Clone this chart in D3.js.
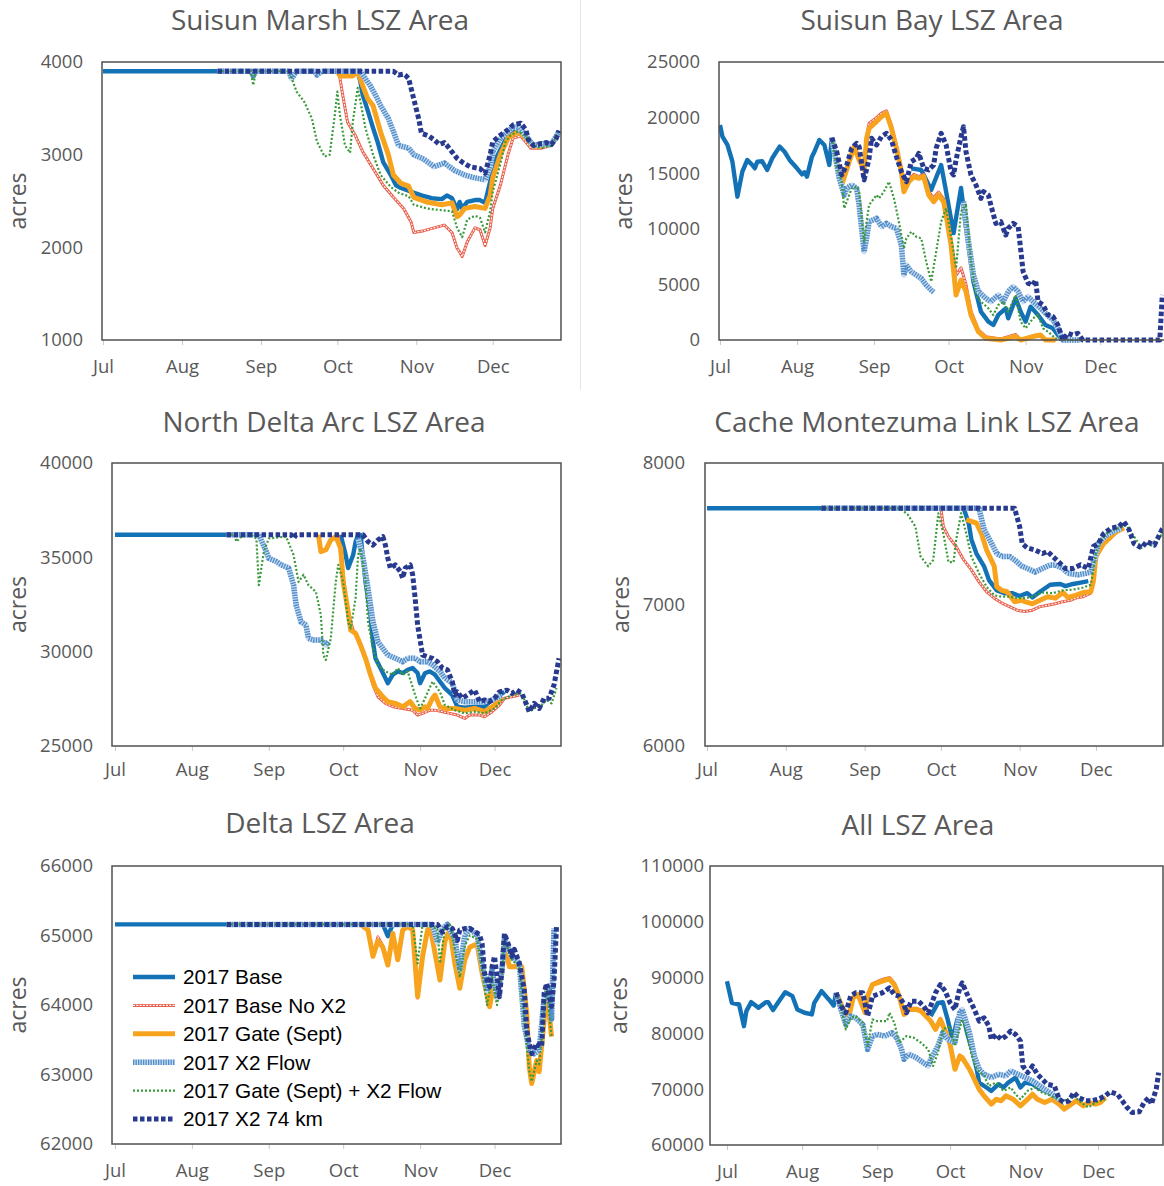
<!DOCTYPE html>
<html>
<head>
<meta charset="utf-8">
<script src="https://d3js.org/d3.v7.min.js"></script>
<style>
body { margin: 0; background: #fff; }
.title { font: 28px "Open Sans", sans-serif; fill: #595959; }
.tick text { font: 18.5px "Open Sans", sans-serif; fill: #595959; }
.ylab { font: 23px "Open Sans", sans-serif; fill: #595959; }
.legend text { font: 20.8px "Liberation Sans", Arial, sans-serif; fill: #000; }
</style>
</head>
<body>
<script>
// ---- data (day = days after 1 Jul 2017, value = acres) ----
var months = ["Jul", "Aug", "Sep", "Oct", "Nov", "Dec"];
var seriesNames = ["2017 Base", "2017 Base No X2", "2017 Gate (Sept)", "2017 X2 Flow", "2017 Gate (Sept) + X2 Flow", "2017 X2 74 km"];
var panelTitles = ["Suisun Marsh LSZ Area", "Suisun Bay LSZ Area", "North Delta Arc LSZ Area", "Cache Montezuma Link LSZ Area", "Delta LSZ Area", "All LSZ Area"];

var marshTicks = [1000, 2000, 3000, 4000];
var bayTicks = [0, 5000, 10000, 15000, 20000, 25000];
var ndaTicks = [25000, 30000, 35000, 40000];
var cmlTicks = [6000, 7000, 8000];
var deltaTicks = [62000, 63000, 64000, 65000, 66000];
var allTicks = [60000, 70000, 80000, 90000, 100000, 110000];

// Suisun Marsh
var marshBase = [[0,3900],[45,3900],[46,null],[99,3900],[100,3900],[101,3790],[102,3640],[104,3470],[106,3290],[108,3120],[110,2920],[113,2780],[115,2670],[117,2640],[121,2600],[125,2560],[129,2530],[133,2520],[135,2560],[137,2530],[139,2410],[140,2490],[141,2420],[143,2490],[146,2510],[148,2510],[150,2480],[152,2710],[153,2870],[155,3000],[158,3160],[160,3230],[163,3270],[165,3250],[167,3160],[169,3100],[172,3120],[174,3130],[176,3110],[178,3180],[179,3250]];
var marshNoX2 = [[91,3900],[92,3900],[93,3830],[94,3660],[96,3350],[99,3210],[102,3030],[106,2850],[110,2670],[114,2540],[118,2420],[121,2270],[122,2160],[126,2180],[130,2210],[134,2240],[137,2160],[139,1990],[140,1950],[141,1900],[143,2060],[146,2210],[148,2190],[150,2020],[152,2210],[153,2420],[156,2670],[159,3000],[161,3180],[164,3200],[168,3070],[172,3070],[176,3100],[179,3230]];
var marshGate = [[91,3900],[92,3900],[93,3850],[98,3850],[100,3900],[102,3740],[104,3600],[106,3530],[109,3240],[112,3000],[114,2780],[117,2690],[120,2660],[122,2540],[127,2490],[133,2460],[137,2480],[139,2330],[140,2350],[142,2420],[146,2440],[150,2420],[152,2560],[153,2750],[156,3000],[159,3180],[163,3250],[166,3180],[169,3090],[172,3100],[176,3110],[179,3240]];
var marshFlow = [[45,3900],[58,3900],[59,3850],[60,3900],[73,3900],[74,3820],[76,3900],[83,3900],[84,3860],[86,3900],[101,3900],[103,3820],[105,3740],[107,3640],[109,3530],[112,3390],[114,3250],[116,3100],[120,3070],[122,3000],[126,2950],[130,2870],[134,2910],[138,2830],[142,2780],[146,2750],[150,2730],[152,2870],[153,3030],[156,3180],[159,3250],[161,3300],[163,3290],[166,3200],[169,3100],[172,3110],[176,3110],[179,3250]];
var marshGateFlow = [[45,3900],[58,3900],[59,3750],[60,3900],[73,3900],[74,3830],[76,3680],[79,3570],[82,3390],[84,3140],[87,2980],[89,3000],[91,3430],[92,3680],[93,3430],[95,3100],[97,3020],[98,3340],[100,3720],[101,3580],[103,3290],[106,3000],[109,2780],[113,2650],[116,2590],[120,2550],[122,2460],[127,2420],[133,2400],[137,2390],[139,2210],[141,2110],[143,2300],[146,2340],[148,2320],[150,2160],[152,2390],[153,2600],[156,2900],[158,3140],[160,3210],[163,3250],[166,3200],[169,3100],[172,3070],[176,3100],[179,3250]];
var marsh74 = [[45,3900],[114,3900],[116,3860],[118,3870],[119,3850],[120,3820],[122,3600],[124,3380],[125,3230],[128,3200],[130,3160],[132,3110],[134,3130],[135,3100],[137,3030],[139,2960],[141,2920],[144,2870],[148,2850],[150,2800],[152,3000],[153,3140],[156,3210],[159,3270],[161,3320],[164,3340],[166,3270],[167,3160],[169,3100],[172,3120],[174,3130],[176,3110],[178,3180],[179,3260]];

// Suisun Bay
var bayBase = [[0,19330],[1,18280],[3,17540],[5,16030],[7,12890],[9,15140],[11,16190],[13,15740],[14,15440],[15,16030],[17,16070],[19,15290],[21,16340],[24,17390],[26,16930],[28,16190],[31,15440],[33,14900],[34,15080],[35,14690],[37,16490],[38,16930],[40,17990],[42,17540],[44,15740],[45,18190],[46,null],[77,15440],[81,15290],[85,13490],[89,15740],[91,13340],[94,9620],[97,13670],[99,10070],[102,5250],[105,2550],[108,1650],[110,1350],[112,2250],[115,2850],[116,1950],[119,3750],[121,2550],[123,1650],[125,3000],[128,2250],[131,1350],[134,1050],[136,450],[138,0],[140,0]];
var bayNoX2 = [[46,17200],[47,16000],[49,14200],[52,16200],[54,17500],[56,16300],[58,15400],[59,18300],[60,19500],[63,20000],[65,20400],[67,20600],[69,19300],[71,17500],[73,15400],[74,13600],[76,14400],[78,14900],[80,14700],[82,14900],[84,13300],[86,12800],[88,13300],[90,12700],[91,11500],[93,9000],[95,5800],[97,6500],[99,5000],[101,2600],[104,900],[107,300],[113,100],[119,500],[121,0],[126,400],[129,500],[131,0],[135,0]];
var bayGate = [[46,17000],[47,16000],[49,13940],[52,16030],[54,17390],[56,16190],[58,15290],[59,18140],[60,19040],[63,19640],[65,20090],[67,20390],[69,19040],[71,17240],[73,15140],[74,13340],[76,14240],[78,14690],[80,14540],[82,14690],[84,13040],[86,12440],[88,13040],[90,12440],[91,11240],[93,8540],[95,4050],[97,5390],[99,4350],[101,2250],[104,750],[107,150],[113,0],[119,300],[121,0],[126,300],[129,450],[131,0],[135,0]];
var bayFlow = [[45,18190],[48,14540],[50,13040],[51,13640],[53,13940],[55,13640],[56,12140],[58,7940],[59,9140],[60,10640],[63,10940],[65,10190],[67,10490],[69,10190],[71,10040],[73,8540],[74,5840],[75,6740],[77,6140],[79,5840],[81,5540],[83,4940],[85,4490],[86,4300],[87,null],[98,12440],[100,8840],[102,5840],[104,4350],[107,3750],[109,3450],[112,4050],[114,3450],[116,4350],[118,4800],[120,4350],[122,3450],[124,3900],[126,3450],[129,2850],[131,2400],[134,1800],[136,1050],[138,0],[145,0]];
var bayGateFlow = [[45,18140],[47,15440],[49,14240],[50,11840],[53,13640],[55,13790],[56,13340],[58,8840],[59,10640],[60,12140],[63,13040],[64,12740],[66,13340],[68,14240],[70,12740],[72,10640],[74,8240],[75,9140],[77,9740],[79,9290],[81,9140],[83,7040],[85,5240],[87,7940],[89,10640],[91,11840],[92,10640],[94,7940],[95,6440],[97,11540],[99,12140],[101,7040],[103,4050],[105,3450],[108,2850],[110,2250],[112,3150],[114,3450],[116,2550],[119,4050],[121,1650],[123,1050],[126,1950],[128,2250],[130,1050],[132,750],[135,150],[138,0],[147,0]];
var bay74 = [[45,18190],[47,16930],[49,14840],[51,15740],[53,17240],[55,17690],[56,17390],[58,14390],[60,16330],[61,18140],[63,17540],[65,18300],[67,18590],[69,17990],[71,16480],[73,15140],[75,14240],[77,16030],[79,16330],[80,16780],[82,15440],[84,15290],[86,15740],[87,17240],[89,18590],[91,17540],[93,15140],[94,14840],[95,16190],[97,18290],[98,19180],[99,16930],[101,14840],[103,13940],[105,12740],[106,13340],[108,13040],[109,12140],[111,10490],[113,10640],[115,9440],[116,10040],[118,10490],[120,10190],[122,6140],[124,5100],[126,4950],[127,5390],[128,3450],[130,3150],[132,2250],[134,2100],[136,1350],[138,0],[140,600],[142,450],[144,600],[146,0],[177,0],[178,4050]];

// North Delta Arc
var ndaBase = [[0,36200],[45,36200],[46,null],[91,36200],[92,35650],[93,35120],[94,34430],[96,35120],[97,35830],[98,36180],[99,36180],[101,33700],[103,31940],[104,30530],[105,29650],[107,29130],[109,28600],[110,28330],[112,28780],[114,28950],[116,28870],[118,29040],[120,29130],[122,28870],[123,28330],[125,28870],[127,28950],[129,28780],[131,28420],[133,28070],[136,27700],[138,27080],[141,27030],[145,27080],[149,27080],[151,27350],[154,27610],[157,27870]];
var ndaNoX2 = [[90,36200],[92,34000],[94,32000],[96,31150],[98,30700],[100,30000],[102,29130],[104,28240],[106,27610],[109,27260],[112,27080],[116,26990],[120,26900],[122,26640],[124,26730],[127,26900],[129,26900],[132,26820],[135,26730],[138,26640],[141,26460],[143,26640],[147,26640],[149,26550],[152,26820],[155,27170],[157,27530],[160,27610],[163,27700]];
var ndaGate = [[82,36200],[83,35300],[85,35400],[87,35920],[89,36100],[91,35480],[92,33700],[94,32120],[95,31150],[97,30970],[99,30350],[101,29650],[103,28780],[105,28070],[108,27610],[110,27350],[113,27260],[116,27080],[119,27350],[121,26990],[123,26900],[125,27080],[126,26990],[128,27530],[129,27700],[131,27080],[133,26990],[137,26990],[141,26900],[145,26990],[149,26820],[153,27170],[156,27610]];
var ndaFlow = [[45,36200],[58,36200],[61,35300],[62,34950],[65,34780],[67,34600],[70,34430],[72,33530],[73,32480],[75,31580],[77,31410],[78,30700],[80,30620],[83,30620],[85,30350],[86,30530],[87,null],[98,36000],[100,34950],[102,33350],[104,31580],[106,30530],[108,30170],[110,29820],[113,29650],[116,29470],[118,29650],[121,29650],[123,29470],[126,29470],[128,29300],[131,28950],[133,28600],[136,28330],[138,27440],[141,27350],[145,27350],[149,27350],[152,27440],[156,27700]];
var ndaGateFlow = [[45,36200],[48,36200],[49,35830],[51,36100],[55,36180],[57,36000],[58,33530],[60,35300],[62,36000],[69,36100],[72,35120],[74,33700],[76,34080],[78,33530],[81,33170],[83,31940],[84,29820],[85,29560],[87,30700],[89,33700],[90,34600],[92,33700],[94,31580],[95,31230],[97,32840],[98,35120],[99,35480],[101,33700],[102,31580],[104,30170],[106,29300],[109,28950],[112,28780],[114,29130],[116,28780],[118,28950],[121,27700],[123,26990],[125,27530],[128,28420],[131,27870],[133,27170],[137,26900],[141,26730],[145,26820],[149,26730],[153,26990],[156,27440],[160,27700],[164,27790],[167,26820],[169,26990],[172,27170],[174,27440],[176,27260],[178,28070]];
var nda74 = [[45,36200],[71,36200],[72,36000],[73,36200],[100,36200],[102,35830],[104,35650],[106,35920],[108,36100],[109,35650],[110,34950],[111,34430],[113,34600],[115,34250],[116,33900],[117,34430],[119,34600],[120,34080],[121,32840],[122,31410],[124,29820],[126,29730],[128,29640],[130,29470],[132,29130],[134,29040],[136,28400],[137,27700],[138,27870],[140,27530],[142,27700],[145,27960],[147,27350],[149,27440],[151,27350],[153,27530],[155,27870],[158,27960],[160,27790],[162,27960],[164,27790],[166,27170],[167,26820],[169,27260],[171,26990],[173,27530],[175,27530],[177,28240],[179,29650]];

// Cache Montezuma Link
var cmlBase = [[0,7680],[45,7680],[46,null],[101,7680],[103,7570],[104,7460],[106,7360],[109,7270],[111,7170],[114,7100],[117,7080],[120,7080],[123,7060],[126,7080],[128,7050],[131,7090],[135,7140],[139,7145],[141,7130],[144,7145],[147,7155],[150,7165]];
var cmlNoX2 = [[92,7680],[93,7550],[95,7480],[98,7410],[101,7315],[104,7245],[107,7160],[110,7090],[113,7045],[116,7010],[119,6985],[122,6960],[125,6950],[128,6960],[131,6985],[134,6995],[137,7005],[140,7020],[143,7030],[145,7045],[148,7055],[151,7080],[152,7220],[153,7360],[156,7440],[159,7490],[162,7520],[164,7540]];
var cmlGate = [[102,7600],[106,7575],[108,7500],[110,7385],[113,7270],[114,7125],[116,7100],[118,7090],[121,7020],[124,7030],[125,7020],[128,7005],[131,7030],[134,7055],[137,7045],[140,7085],[142,7050],[145,7065],[148,7085],[151,7090],[152,7165],[153,7340],[156,7430],[159,7480],[161,7515],[164,7540]];
var cmlFlow = [[45,7680],[107,7680],[109,7530],[112,7430],[114,7360],[116,7340],[119,7340],[121,7315],[124,7270],[126,7255],[129,7230],[132,7255],[135,7280],[137,7280],[140,7255],[142,7220],[146,7210],[149,7220],[151,7230],[153,7360],[154,7430],[157,7490],[160,7520],[163,7540]];
var cmlGateFlow = [[45,7680],[76,7680],[79,7635],[82,7550],[84,7340],[87,7270],[89,7315],[91,7645],[93,7500],[95,7300],[97,7300],[98,7455],[100,7645],[102,7500],[104,7340],[107,7220],[110,7125],[113,7065],[116,7055],[119,7055],[122,7045],[125,7045],[128,7055],[132,7085],[136,7080],[140,7100],[144,7105],[148,7120],[151,7140],[153,7360],[155,7455],[158,7515],[162,7540],[165,7560],[168,7480],[171,7400],[173,7430],[176,7410],[179,7500]];
var cml74 = [[45,7680],[121,7680],[123,7550],[124,7430],[126,7400],[129,7385],[132,7360],[134,7375],[136,7340],[139,7290],[141,7255],[144,7255],[147,7280],[150,7255],[152,7410],[154,7430],[156,7500],[159,7540],[162,7550],[164,7585],[166,7530],[168,7430],[171,7400],[173,7445],[176,7420],[179,7530],[180,7550]];

// Delta
var deltaBase = [[0,65160],[45,65160],[46,null],[107,65160],[108,65160],[110,64990],[112,65160],[113,65160]];
var deltaNoX2 = [[99,65160],[102,65080],[104,64700],[106,64980],[108,64850],[110,64620],[112,65030],[114,64650],[116,65080],[118,65130],[120,65080],[122,64100],[124,64700],[126,65080],[127,65130],[129,64750],[131,64380],[133,64920],[135,65080],[137,64600],[139,64260],[141,64650],[143,64830],[146,64880],[148,64470],[150,64150],[151,63990],[153,64370],[154,64270],[156,64470],[157,64890],[159,64560],[162,64560],[164,64560],[166,63900],[167,63120],[168,62890],[170,63210],[171,63060],[173,63790],[174,64230],[176,63560]];
var deltaGate = [[99,65160],[102,65080],[104,64700],[106,64920],[108,64830],[110,64575],[112,65030],[114,64650],[116,65080],[118,65130],[120,65080],[122,64120],[124,64700],[126,65080],[127,65130],[129,64750],[131,64360],[133,64920],[135,65080],[137,64600],[139,64240],[141,64650],[143,64830],[146,64880],[148,64460],[150,64140],[151,63975],[153,64360],[154,64260],[156,64460],[157,64880],[159,64550],[162,64550],[164,64550],[166,63880],[167,63110],[168,62870],[170,63200],[171,63040],[173,63780],[174,64220],[176,63545]];
var deltaFlow = [[45,65160],[128,65160],[130,64900],[132,65100],[134,65160],[137,64950],[139,64500],[141,65000],[143,65100],[146,65000],[148,64600],[150,64200],[152,64500],[154,64100],[156,64500],[157,64950],[160,64700],[163,64600],[165,63700],[167,63350],[169,63300],[171,63350],[173,64100],[175,64250],[176,63800],[177,65100]];
var deltaGateFlow = [[45,65160],[120,65160],[122,64600],[124,65160],[130,65100],[131,64600],[133,65100],[135,65160],[137,64800],[139,64400],[141,64850],[143,65000],[146,64950],[148,64500],[150,64000],[152,64400],[154,64000],[156,64450],[157,64950],[160,64650],[163,64550],[165,63750],[167,63050],[168,62900],[170,63200],[171,63150],[173,63900],[174,64250],[176,63550]];
var delta74 = [[45,65160],[130,65160],[132,65050],[134,65130],[136,65100],[138,64930],[139,65080],[141,65100],[143,65100],[145,65060],[147,65010],[148,64880],[149,64460],[151,64260],[152,64550],[153,64700],[155,64120],[156,64500],[157,65030],[159,64830],[160,64700],[161,64800],[163,64600],[165,64220],[166,63640],[167,63450],[168,63300],[170,63450],[172,63400],[173,64170],[174,64310],[176,63980],[177,64360],[178,65130]];

// All
var allBase = [[0,89340],[2,85480],[5,85180],[7,81300],[8,84000],[10,85600],[13,84580],[16,85600],[17,85600],[19,84180],[21,85480],[24,87390],[27,86670],[29,84300],[32,83700],[35,83400],[36,85480],[39,87570],[42,86080],[44,85000],[45,87270],[46,null],[84,83090],[87,85480],[89,85600],[91,82500],[93,78930],[95,82500],[97,84000],[99,80120],[101,77140],[103,73570],[104,71190],[107,70300],[109,69700],[112,70900],[114,70300],[116,71190],[119,72080],[121,70300],[123,71190],[126,70900],[128,70300],[131,69700],[134,69100],[137,68210],[138,67020]];
var allNoX2 = [[45,87270],[48,84500],[50,82700],[52,86500],[54,87100],[57,83800],[58,86800],[60,88900],[62,89300],[65,89800],[67,90000],[69,89000],[71,86900],[73,83600],[75,84500],[78,84500],[80,84200],[82,83300],[84,82400],[86,80900],[88,82700],[90,80600],[92,78200],[94,73800],[96,76100],[97,75800],[100,73700],[102,71900],[104,70100],[106,68900],[109,67500],[111,68300],[113,68000],[115,68900],[118,68300],[121,67100],[124,68300],[126,69200],[128,68300],[131,67700],[134,68300],[137,67400],[139,66500],[141,67100],[144,68000],[147,67100],[149,67700],[152,67400],[154,67700],[156,68600]];
var allGate = [[45,87270],[48,84300],[50,82500],[52,86370],[54,86970],[57,83700],[58,86670],[60,88750],[62,89050],[65,89520],[67,89760],[69,88750],[71,86670],[73,83400],[75,84300],[78,84300],[80,84000],[82,83100],[84,82200],[86,80720],[88,82500],[90,80420],[92,78040],[94,73570],[96,75950],[97,75660],[100,73570],[102,71780],[104,70000],[106,68800],[109,67320],[111,68210],[113,67920],[115,68800],[118,68210],[121,67020],[124,68210],[126,69100],[128,68210],[131,67620],[134,68210],[137,67320],[139,66430],[141,67020],[144,67920],[147,67020],[149,67620],[152,67320],[154,67620],[156,68510]];
var allFlow = [[45,87270],[47,84300],[49,81600],[51,83100],[53,82800],[56,81600],[58,77140],[60,79520],[62,79820],[65,79520],[68,80120],[70,79220],[72,77140],[73,75360],[75,76250],[78,75660],[81,74760],[83,74160],[84,75360],[87,77740],[89,80120],[91,78930],[94,78330],[96,83700],[97,84300],[100,80120],[102,75950],[104,73570],[106,72670],[109,72080],[112,72670],[115,72380],[117,73270],[120,72670],[123,72080],[126,71490],[128,70900],[131,70000],[134,69100],[137,68210]];
var allGateFlow = [[45,87270],[47,84900],[49,80720],[51,82800],[53,83100],[56,81900],[58,77740],[60,82500],[62,82200],[66,82200],[67,83700],[69,81900],[71,78330],[74,79520],[77,79220],[80,78330],[83,77140],[85,74160],[87,76550],[89,80720],[92,81300],[94,77740],[97,82500],[99,79520],[101,75950],[103,73570],[106,72380],[108,70600],[111,71190],[114,69700],[117,70300],[119,69100],[121,68210],[124,69700],[127,70300],[130,69400],[132,69100],[135,68510],[138,67920],[141,68210],[143,68800],[146,67620],[149,66730],[152,67620],[154,67920],[156,68210]];
var all74 = [[45,87270],[47,84900],[49,83700],[51,86670],[53,87270],[56,87270],[58,83100],[60,86670],[62,86970],[64,87270],[67,88160],[69,86970],[71,86670],[73,85180],[74,83700],[76,85780],[79,85780],[81,84900],[83,83700],[86,87270],[88,88750],[90,87570],[92,85480],[94,84300],[96,88160],[97,89050],[100,86080],[102,84300],[104,82200],[106,82800],[108,81300],[109,78930],[111,79820],[113,78930],[115,79520],[117,80420],[119,79820],[121,78630],[122,74160],[124,72970],[126,74160],[128,72670],[130,71780],[132,70900],[135,70600],[137,68210],[139,67620],[141,67920],[143,69400],[145,68510],[148,67920],[150,67920],[153,68210],[156,68800],[158,69520],[161,69100],[163,67920],[165,66730],[167,65830],[170,65950],[172,67620],[174,68510],[175,67320],[177,70000],[178,72970]];

// ---- styles and layout ----
var seriesStyle = [
  {color: "#1372B6", width: 4.4},
  {color: "#E8604C", width: 3, inner: true},
  {color: "#F8A31D", width: 5},
  {color: "#4F8CC9", width: 5.5, under: "#C9DCF0", dash: "1.3 1.2"},
  {color: "#3A9A3A", width: 2.2, dash: "2 2"},
  {color: "#283A8F", width: 5, dash: "4.5 2.5"}
];

var panels = [
  {title: panelTitles[0], l: 102, r: 561, t: 62, b: 340, d0: -0.4, d1: 179.8, y: [1000, 4000], ticks: marshTicks, pad: 19, tx: 320, ty: 30, ax: 18, lab: 33,
   data: [marshBase, marshNoX2, marshGate, marshFlow, marshGateFlow, marsh74]},
  {title: panelTitles[1], l: 719, r: 1168, t: 62, b: 340, d0: -0.4, d1: 180.3, y: [0, 25000], ticks: bayTicks, pad: 19, tx: 932, ty: 30, ax: 624, lab: 33,
   data: [bayBase, bayNoX2, bayGate, bayFlow, bayGateFlow, bay74]},
  {title: panelTitles[2], l: 112, r: 561, t: 463, b: 746, d0: -1.2, d1: 179.8, y: [25000, 40000], ticks: ndaTicks, pad: 19, tx: 324, ty: 432, ax: 18, lab: 30,
   data: [ndaBase, ndaNoX2, ndaGate, ndaFlow, ndaGateFlow, nda74]},
  {title: panelTitles[3], l: 705, r: 1163, t: 463, b: 746, d0: -0.8, d1: 179.4, y: [6000, 8000], ticks: cmlTicks, pad: 20, tx: 927, ty: 432, ax: 621, lab: 30,
   data: [cmlBase, cmlNoX2, cmlGate, cmlFlow, cmlGateFlow, cml74]},
  {title: panelTitles[4], l: 112, r: 561, t: 866, b: 1144, d0: -1.2, d1: 179.8, y: [62000, 66000], ticks: deltaTicks, pad: 19, tx: 320, ty: 833, ax: 18, lab: 33,
   data: [deltaBase, deltaNoX2, deltaGate, deltaFlow, deltaGateFlow, delta74], legend: true},
  {title: panelTitles[5], l: 710, r: 1163, t: 866, b: 1145, d0: -7, d1: 179.8, y: [60000, 110000], ticks: allTicks, pad: 6, tx: 918, ty: 835, ax: 619, lab: 33,
   data: [allBase, allNoX2, allGate, allFlow, allGateFlow, all74]}
];

var jul1 = new Date(2017, 6, 1);
function toDate(d) { return new Date(jul1.getTime() + d * 864e5); }

var svg = d3.select("body").append("svg")
    .attr("width", 1164)
    .attr("height", 1186);

// faint separator between top panels
svg.append("line").attr("x1", 580.5).attr("x2", 580.5).attr("y1", 0).attr("y2", 390)
    .attr("stroke", "#E6E6E6").attr("stroke-width", 1);

panels.forEach(function(p, pi) {
  var x = d3.scaleTime().domain([toDate(p.d0), toDate(p.d1)]).range([p.l, p.r]);
  var y = d3.scaleLinear().domain(p.y).range([p.b, p.t]);
  var g = svg.append("g");

  g.append("text").attr("class", "title")
      .attr("x", p.tx).attr("y", p.ty)
      .attr("text-anchor", "middle")
      .text(p.title);

  g.append("text").attr("class", "ylab")
      .attr("transform", "translate(" + (p.ax + 8) + "," + ((p.t + p.b) / 2) + ") rotate(-90)")
      .attr("text-anchor", "middle")
      .text("acres");

  // x axis
  var xa = g.append("g")
      .attr("transform", "translate(0," + p.b + ")")
      .call(d3.axisBottom(x).ticks(d3.timeMonth.every(1)).tickFormat(function(d, i) { return months[d.getMonth() - 6]; }).tickSize(5));
  xa.select(".domain").remove();
  xa.selectAll(".tick line").attr("stroke", "#C8C8C8");
  xa.selectAll(".tick text").attr("y", p.lab).attr("dy", 0);

  // y axis
  var ya = g.append("g")
      .attr("transform", "translate(" + p.l + ",0)")
      .call(d3.axisLeft(y).tickValues(p.ticks).tickFormat(d3.format("d")).tickSize(0).tickPadding(p.pad));
  ya.select(".domain").remove();

  var clipId = "clip" + pi;
  svg.append("clipPath").attr("id", clipId)
    .append("rect").attr("x", p.l).attr("y", p.t - 4).attr("width", p.r - p.l).attr("height", p.b - p.t + 8);

  var plot = g.append("g").attr("clip-path", "url(#" + clipId + ")");
  var line = d3.line()
      .defined(function(d) { return d[1] !== null; })
      .x(function(d) { return x(toDate(d[0])); })
      .y(function(d) { return y(d[1]); });

  p.data.forEach(function(series, si) {
    var st = seriesStyle[si];
    if (st.under) {
      plot.append("path").attr("d", line(series)).attr("fill", "none")
          .attr("stroke", st.under).attr("stroke-width", st.width).attr("stroke-linejoin", "round");
    }
    plot.append("path").attr("d", line(series)).attr("fill", "none")
        .attr("stroke", st.color).attr("stroke-width", st.width)
        .attr("stroke-dasharray", st.dash || null)
        .attr("stroke-linejoin", "round");
    if (st.inner) {
      plot.append("path").attr("d", line(series)).attr("fill", "none")
          .attr("stroke", "#fff").attr("stroke-width", 1.1)
          .attr("stroke-dasharray", "2 1.3");
    }
  });

  g.append("rect")
      .attr("x", p.l).attr("y", p.t)
      .attr("width", p.r - p.l).attr("height", p.b - p.t)
      .attr("fill", "none").attr("stroke", "#505050").attr("stroke-width", 1.5);

  if (p.legend) {
    var lg = g.append("g").attr("class", "legend");
    seriesNames.forEach(function(name, i) {
      var st = seriesStyle[i];
      var yy = 977 + i * 28.4;
      if (st.under) {
        lg.append("line").attr("x1", 133).attr("x2", 175).attr("y1", yy).attr("y2", yy)
            .attr("stroke", st.under).attr("stroke-width", st.width);
      }
      lg.append("line").attr("x1", 133).attr("x2", 175).attr("y1", yy).attr("y2", yy)
          .attr("stroke", st.color).attr("stroke-width", st.width)
          .attr("stroke-dasharray", st.dash || null);
      if (st.inner) {
        lg.append("line").attr("x1", 133).attr("x2", 175).attr("y1", yy).attr("y2", yy)
            .attr("stroke", "#fff").attr("stroke-width", 1.1).attr("stroke-dasharray", "2 1.3");
      }
      lg.append("text").attr("x", 183).attr("y", yy).attr("dy", "0.36em").text(name);
    });
  }
});
</script>
</body>
</html>
